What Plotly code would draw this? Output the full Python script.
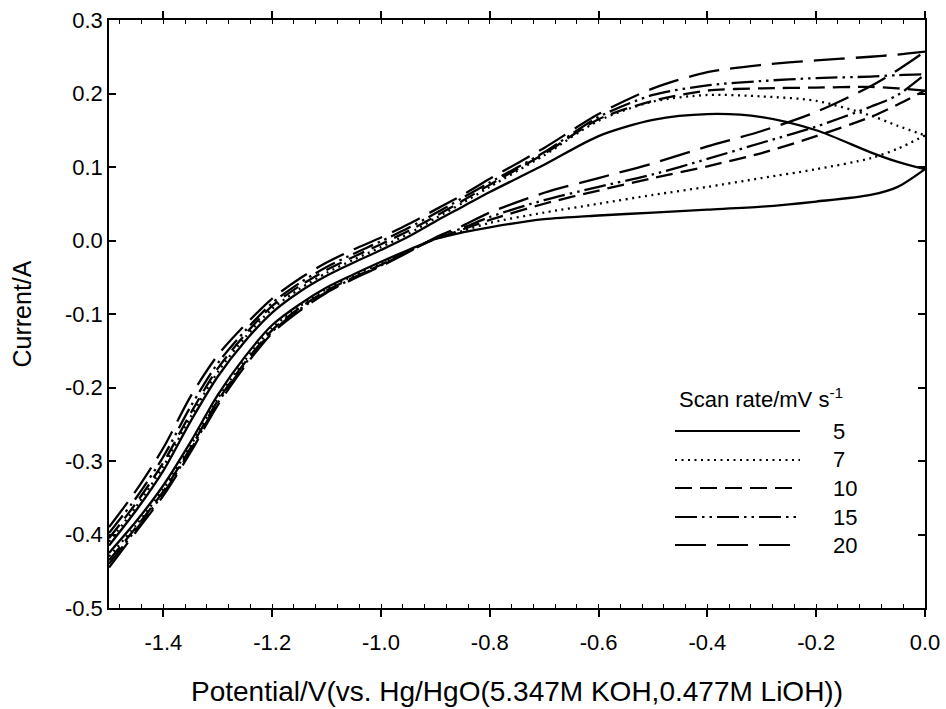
import plotly.graph_objects as go

# Potential grid (V vs Hg/HgO)
E = [-1.5, -1.45, -1.4, -1.35, -1.3, -1.25, -1.2, -1.15, -1.1, -1.05, -1.0, -0.95,
     -0.9, -0.85, -0.8, -0.7, -0.6, -0.5, -0.4, -0.3, -0.2, -0.1, -0.05, 0.0]

scan_rates = ["5", "7", "10", "15", "20"]

# forward (anodic) and reverse branches, current / A, on grid E
fwd_5 = [-0.415, -0.367, -0.313, -0.246, -0.185, -0.137, -0.098, -0.070, -0.048, -0.030, -0.013, 0.005,
         0.026, 0.046, 0.066, 0.103, 0.142, 0.164, 0.172, 0.168, 0.150, 0.120, 0.107, 0.097]
rev_5 = [-0.425, -0.382, -0.333, -0.274, -0.210, -0.158, -0.115, -0.087, -0.064, -0.046, -0.029, -0.013,
         0.002, 0.011, 0.018, 0.029, 0.034, 0.038, 0.042, 0.046, 0.053, 0.062, 0.073, 0.097]

fwd_7 = [-0.410, -0.362, -0.307, -0.240, -0.179, -0.132, -0.093, -0.066, -0.044, -0.026, -0.009, 0.009,
         0.030, 0.051, 0.073, 0.116, 0.163, 0.189, 0.198, 0.196, 0.190, 0.170, 0.156, 0.143]
rev_7 = [-0.430, -0.387, -0.338, -0.279, -0.215, -0.163, -0.119, -0.090, -0.066, -0.048, -0.031, -0.014,
         0.002, 0.013, 0.024, 0.038, 0.050, 0.062, 0.073, 0.085, 0.097, 0.112, 0.125, 0.143]

fwd_10 = [-0.405, -0.357, -0.302, -0.235, -0.174, -0.128, -0.089, -0.062, -0.040, -0.022, -0.005, 0.013,
          0.033, 0.054, 0.076, 0.118, 0.165, 0.190, 0.204, 0.207, 0.208, 0.209, 0.207, 0.204]
rev_10 = [-0.435, -0.390, -0.341, -0.282, -0.218, -0.166, -0.122, -0.092, -0.068, -0.050, -0.033, -0.015,
          0.002, 0.015, 0.028, 0.050, 0.068, 0.085, 0.101, 0.119, 0.142, 0.168, 0.185, 0.204]

fwd_15 = [-0.398, -0.350, -0.294, -0.226, -0.167, -0.123, -0.085, -0.058, -0.036, -0.018, -0.001, 0.017,
          0.037, 0.058, 0.079, 0.120, 0.168, 0.198, 0.211, 0.217, 0.221, 0.223, 0.225, 0.226]
rev_15 = [-0.440, -0.393, -0.344, -0.285, -0.221, -0.168, -0.124, -0.094, -0.070, -0.051, -0.034, -0.015,
          0.003, 0.017, 0.032, 0.055, 0.073, 0.090, 0.111, 0.133, 0.155, 0.182, 0.198, 0.226]

fwd_20 = [-0.390, -0.340, -0.282, -0.212, -0.156, -0.115, -0.079, -0.052, -0.030, -0.012, 0.004, 0.022,
          0.042, 0.062, 0.084, 0.126, 0.172, 0.207, 0.229, 0.239, 0.245, 0.250, 0.253, 0.257]
rev_20 = [-0.445, -0.396, -0.347, -0.288, -0.224, -0.171, -0.126, -0.096, -0.071, -0.052, -0.035, -0.016,
          0.004, 0.020, 0.038, 0.065, 0.085, 0.105, 0.128, 0.149, 0.175, 0.210, 0.232, 0.257]

x_tick_vals = [-1.4, -1.2, -1.0, -0.8, -0.6, -0.4, -0.2, 0.0]
x_tick_text = ["-1.4", "-1.2", "-1.0", "-0.8", "-0.6", "-0.4", "-0.2", "0.0"]
y_tick_vals = [-0.5, -0.4, -0.3, -0.2, -0.1, 0.0, 0.1, 0.2, 0.3]
y_tick_text = ["-0.5", "-0.4", "-0.3", "-0.2", "-0.1", "0.0", "0.1", "0.2", "0.3"]

branches = {
    "5": (fwd_5, rev_5),
    "7": (fwd_7, rev_7),
    "10": (fwd_10, rev_10),
    "15": (fwd_15, rev_15),
    "20": (fwd_20, rev_20),
}
dashes = {
    "5": "solid",
    "7": "2px,4.5px",
    "10": "17px,8px",
    "15": "22px,5px,2.5px,5px,2.5px,5px",
    "20": "31px,11px",
}

FONT = "Liberation Sans, Arial, Helvetica, sans-serif"
W, H = 946, 709
L, R, T, B = 109, 925, 20, 608

fig = go.Figure()
for sr in scan_rates:
    f, r = branches[sr]
    for ys in (f, r):
        fig.add_trace(go.Scatter(
            x=E, y=ys, mode="lines", showlegend=False,
            line=dict(color="black", width=2.3, dash=dashes[sr], shape="spline", smoothing=0.8),
            hoverinfo="skip",
        ))

def px_to_paper(px, py):
    return (px - L) / (R - L), (B - py) / (B - T)

shapes = []
annotations = []
row_y = [431, 460, 488, 517, 545]
for sr, py in zip(scan_rates, row_y):
    x0, y0 = px_to_paper(675, py)
    x1, _ = px_to_paper(800, py)
    shapes.append(dict(type="line", xref="paper", yref="paper", x0=x0, x1=x1, y0=y0, y1=y0,
                       line=dict(color="black", width=2, dash=dashes[sr])))
    tx, _ = px_to_paper(831, py)
    annotations.append(dict(xref="paper", yref="paper", x=tx, y=y0, text=sr, showarrow=False,
                            xanchor="left", yanchor="middle",
                            font=dict(family=FONT, size=22, color="black")))
tx, ty = px_to_paper(677, 398)
annotations.append(dict(xref="paper", yref="paper", x=tx, y=ty,
                        text="Scan rate/mV s<sup>-1</sup>", showarrow=False,
                        xanchor="left", yanchor="middle",
                        font=dict(family=FONT, size=22, color="black")))

fig.update_layout(
    width=W, height=H,
    margin=dict(l=L, r=W - R, t=T, b=H - B, autoexpand=False),
    paper_bgcolor="white", plot_bgcolor="white",
    font=dict(family=FONT, color="black"),
    shapes=shapes, annotations=annotations,
)
fig.update_xaxes(
    range=[-1.5, 0.0], showgrid=False, zeroline=False,
    showline=True, linecolor="black", linewidth=1.5, mirror="ticks",
    tickmode="array", tickvals=x_tick_vals, ticktext=x_tick_text,
    ticks="outside", ticklen=7, tickwidth=1.5, tickcolor="black",
    ticklabelstandoff=7,
    minor=dict(tickmode="linear", tick0=0.0, dtick=0.04, ticks="inside", ticklen=4,
               tickwidth=1.2, tickcolor="black", showgrid=False),
    tickfont=dict(family=FONT, size=22, color="black"),
    title=dict(text="Potential/V(vs. Hg/HgO(5.347M KOH,0.477M LiOH))",
               font=dict(family=FONT, size=28, color="black"), standoff=27),
)
fig.update_yaxes(
    range=[-0.5, 0.3], showgrid=False, zeroline=False,
    showline=True, linecolor="black", linewidth=1.5, mirror="ticks",
    tickmode="array", tickvals=y_tick_vals, ticktext=y_tick_text,
    ticks="inside", ticklen=7, tickwidth=1.5, tickcolor="black",
    tickfont=dict(family=FONT, size=22, color="black"),
    title=dict(text="Current/A", font=dict(family=FONT, size=25, color="black"), standoff=26),
)

fig.write_html(
    "out.html",
    config={"displayModeBar": False},
    post_script="document.body.style.margin='0px';document.body.style.overflow='hidden';",
)
